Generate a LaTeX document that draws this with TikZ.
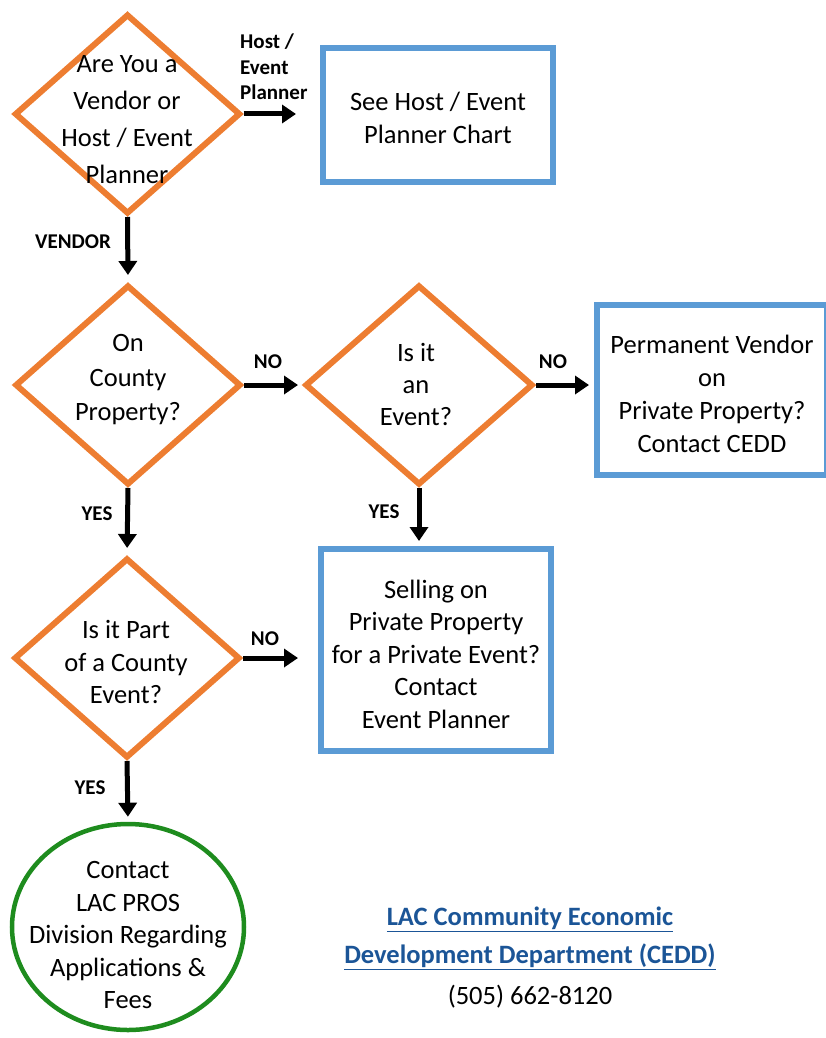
\documentclass[tikz,border=0pt]{standalone}
\usepackage{fontspec}
\setmainfont{Carlito}
\usetikzlibrary{shapes.geometric,arrows.meta}
\definecolor{dorange}{HTML}{ED7D31}
\definecolor{bblue}{HTML}{5B9BD5}
\definecolor{cgreen}{HTML}{1E8C1E}
\definecolor{linkblue}{HTML}{1B5597}
\tikzset{
  decision/.style={shape=diamond, draw=dorange, line width=6pt, inner sep=0pt, minimum width=226pt, minimum height=200pt},
  actionbox/.style={shape=rectangle, draw=bblue, line width=6pt, inner sep=0pt},
  endcircle/.style={shape=ellipse, draw=cgreen, line width=4.5pt, inner sep=0pt, minimum width=232pt, minimum height=206pt},
  maintext/.style={align=center, inner sep=0pt},
  lbl/.style={font=\fontsize{21}{25.5}\selectfont\bfseries, inner sep=0pt},
  arr/.style={line width=5pt, -{Triangle[length=14pt,width=18pt]}},
}
\begin{document}
\begin{tikzpicture}[x=1pt,y=-1pt]
\useasboundingbox (0,0) rectangle (826,1038);
% shapes
\node[decision] (d1) at (127.5,114) {};
\node[decision] (d2) at (128,385) {};
\node[decision, minimum width=228pt] (d3) at (419,385) {};
\node[decision] (d4) at (127,658) {};
\node[actionbox, minimum width=230pt, minimum height=134pt] (b1) at (438,115) {};
\node[actionbox, minimum width=230pt, minimum height=170pt] (b2) at (712,390) {};
\node[actionbox, minimum width=230pt, minimum height=202pt] (b3) at (436,650) {};
\node[endcircle] (c1) at (128,927) {};
% texts
\node[maintext, font=\fontsize{26.5}{37}\selectfont] (t1) at (127,120) {Are You a\\Vendor or\\Host / Event\\Planner};
\node[maintext, font=\fontsize{26.5}{34.5}\selectfont] (t2) at (128,380) {On\\County\\Property?};
\node[maintext, font=\fontsize{26.5}{32}\selectfont] (t3) at (416,384) {Is it\\an\\Event?};
\node[maintext, font=\fontsize{26.5}{32.5}\selectfont] (t4) at (126,662) {Is it Part\\of a County\\Event?};
\node[maintext, font=\fontsize{26.5}{33}\selectfont] (tb1) at (438,118) {See Host / Event\\Planner Chart};
\node[maintext, font=\fontsize{26.5}{33}\selectfont] (tb2) at (712,394) {Permanent Vendor\\on\\Private Property?\\Contact CEDD};
\node[maintext, font=\fontsize{26.5}{32.5}\selectfont] (tb3) at (436,654) {Selling on\\Private Property\\for a Private Event?\\Contact\\Event Planner};
\node[maintext, font=\fontsize{26.5}{32.5}\selectfont] (tc1) at (128,935) {Contact\\LAC PROS\\Division Regarding\\Applications \&\\Fees};
% connectors
\draw[arr, shorten >=24pt] (d1.east) -- (d1.east -| b1.west);
\draw[arr, shorten >=7pt] (d1.south) -- (d2.north);
\draw[arr, shorten >=4pt] (d2.east) -- (d3.west);
\draw[arr, shorten >=5pt] (d3.east) -- (d3.east -| b2.west);
\draw[arr, shorten >=7pt] (d2.south) -- (d4.north);
\draw[arr, shorten >=5pt] (d3.south) -- (d3.south |- b3.north);
\draw[arr, shorten >=20pt] (d4.east) -- (d4.east -| b3.west);
\draw[arr, shorten >=5pt] (d4.south) -- (c1.north);
% labels
\node[lbl, align=left, anchor=west] (l1) at (240,67) {Host /\\Event\\Planner};
\node[lbl] (l2) at (73,242) {VENDOR};
\node[lbl] (l3) at (268,362) {NO};
\node[lbl] (l4) at (553,362) {NO};
\node[lbl] (l5) at (97,514) {YES};
\node[lbl] (l6) at (384,512) {YES};
\node[lbl] (l7) at (265,639) {NO};
\node[lbl] (l8) at (90,788) {YES};
% contact info
\node[maintext, font=\fontsize{26.5}{38}\selectfont] (info) at (530,958) {{\color{linkblue}\bfseries\underline{LAC Community Economic}}\\{\color{linkblue}\bfseries\underline{Development Department (CEDD)}}\\[3pt](505) 662-8120};
\end{tikzpicture}
\end{document}
